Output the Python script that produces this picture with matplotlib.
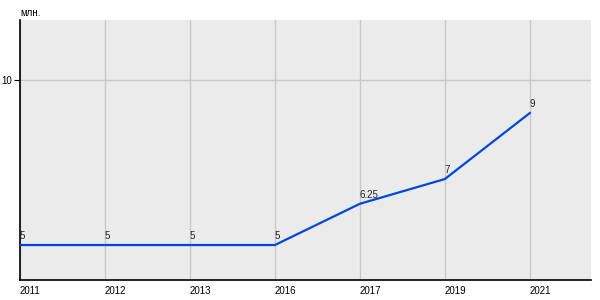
import matplotlib.pyplot as plt

plt.rcParams['font.family'] = ['Liberation Sans', 'DejaVu Sans']

years = ['2011', '2012', '2013', '2016', '2017', '2019', '2021']
values = [5, 5, 5, 5, 6.25, 7, 9]
value_labels = ['5', '5', '5', '5', '6.25', '7', '9']

fig = plt.figure(figsize=(6, 3), dpi=100)
ax = fig.add_axes([20 / 600, 20 / 300, 571 / 600, 260 / 300])
ax.set_facecolor('#ebebeb')

xs = list(range(len(years)))
ax.plot(xs, values, color='#0047e0', linewidth=1.6, zorder=3)

for x, v, lab in zip(xs, values, value_labels):
    ax.annotate(lab, (x, v), xytext=(0, 3), textcoords='offset points',
                ha='left', va='bottom', fontsize=7, color='#222222')

ax.set_xlim(0, 6.72)
ax.set_ylim(3.94, 11.82)

ax.set_xticks(xs)
ax.set_xticklabels(years, ha='left', fontsize=7)
ax.set_yticks([10])
ax.set_yticklabels(['10'], fontsize=7)
ax.tick_params(axis='x', length=0, pad=4)
ax.tick_params(axis='y', length=4, width=0.8, pad=2)

ax.grid(True, color='#c8c8c8', linewidth=1)
ax.set_axisbelow(True)

for side in ['top', 'right']:
    ax.spines[side].set_visible(False)
for side in ['left', 'bottom']:
    ax.spines[side].set_color('black')
    ax.spines[side].set_linewidth(1.2)

fig.text(20 / 600, 1 - 13 / 300, 'млн.', fontsize=7, ha='left', va='center')

fig.savefig('out.png', dpi=100)
